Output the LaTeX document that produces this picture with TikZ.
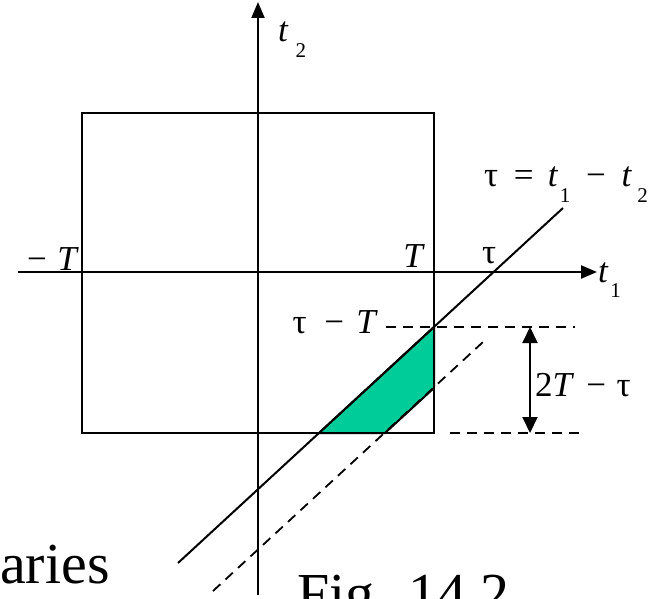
\documentclass[tikz,border=0pt]{standalone}
\usepackage{fontspec}
\setmainfont{Liberation Serif}
\usetikzlibrary{arrows.meta,positioning}
\definecolor{areagreen}{RGB}{0,204,153}
\newcommand{\sbs}[1]{\raisebox{-0.45em}{\fontsize{21}{21}\selectfont #1}}

\begin{document}
\begin{tikzpicture}[x=1pt, y=-1pt,
    axis/.style={-{Triangle[length=16pt,width=13pt]}, line width=2pt},
    edge/.style={line width=2pt},
    guide/.style={line width=1.8pt, dash pattern=on 10pt off 7pt},
    span/.style={{Triangle[length=16pt,width=15pt]}-{Triangle[length=16pt,width=15pt]}, line width=2pt},
    lbl/.style={inner sep=0pt, font=\fontsize{35}{35}\selectfont},
    big/.style={inner sep=0pt, font=\fontsize{58}{58}\selectfont}
  ]
  \useasboundingbox (0,0) rectangle (662,599);
  \clip (0,0) rectangle (662,599);
  \coordinate (sqa) at (82,113);
  \coordinate (sqb) at (434,433);
  \coordinate (xl) at (18,272);
  \coordinate (xr) at (597,272);
  \coordinate (yb) at (258,595);
  \coordinate (yt) at (258,2);
  \coordinate (la) at (178,563);
  \coordinate (lb) at (563,208);
  \coordinate (da) at (213,591);
  \coordinate (db) at (483,342);
  \coordinate (g1) at (319,433);
  \coordinate (g2) at (434,327);
  \coordinate (g3) at (434,388);
  \coordinate (g4) at (385,433);
  \coordinate (h1a) at (386,327);
  \coordinate (h1b) at (575,327);
  \coordinate (h2a) at (450,433);
  \coordinate (h2b) at (579,433);
  \coordinate (s1) at (530,327);
  \coordinate (s2) at (530,433);
  \filldraw[areagreen, draw=black, edge, line join=round] (g1) -- (g2) -- (g3) -- (g4) -- cycle;
  \draw[edge] (sqa) rectangle (sqb);
  \draw[axis] (xl) -- (xr);
  \draw[axis] (yb) -- (yt);
  \draw[edge] (la) -- (lb);
  \draw[guide] (da) -- (db);
  \draw[guide] (h1a) -- (h1b);
  \draw[guide] (h2a) -- (h2b);
  \draw[span] (s1) -- (s2);
  \node[lbl, anchor=base east] (mt) at (79,270) {−\hspace{0.3em}\textit{T}};
  \node[lbl, anchor=base east] (pt) at (425,268) {\textit{T}};
  \node[lbl, anchor=base west] (tau) at (482,263) {τ};
  \node[lbl, anchor=base west] (tone) at (598,282) {\textit{t}\hspace{0.05em}\sbs{1}};
  \node[lbl, anchor=base west] (ttwo) at (278,42) {\textit{t}\hspace{0.2em}\sbs{2}};
  \node[lbl, anchor=base west] (eq) at (484,187) {τ\hspace{0.45em}=\hspace{0.4em}\textit{t}\hspace{0.05em}\sbs{1}\hspace{0.45em}−\hspace{0.45em}\textit{t}\hspace{0.15em}\sbs{2}};
  \node[lbl, anchor=base east] (taut) at (378,333) {τ\hspace{0.5em}−\hspace{0.35em}\textit{T}};
  \node[lbl, anchor=base west] (width) at (535,396) {2\textit{T}\hspace{0.35em}−\hspace{0.3em}τ};
  \node[big, anchor=base west] (word) at (0,583) {aries};
  \node[big, anchor=base west] (fig) at (297,613) {Fig. 14.2};
\end{tikzpicture}
\end{document}
